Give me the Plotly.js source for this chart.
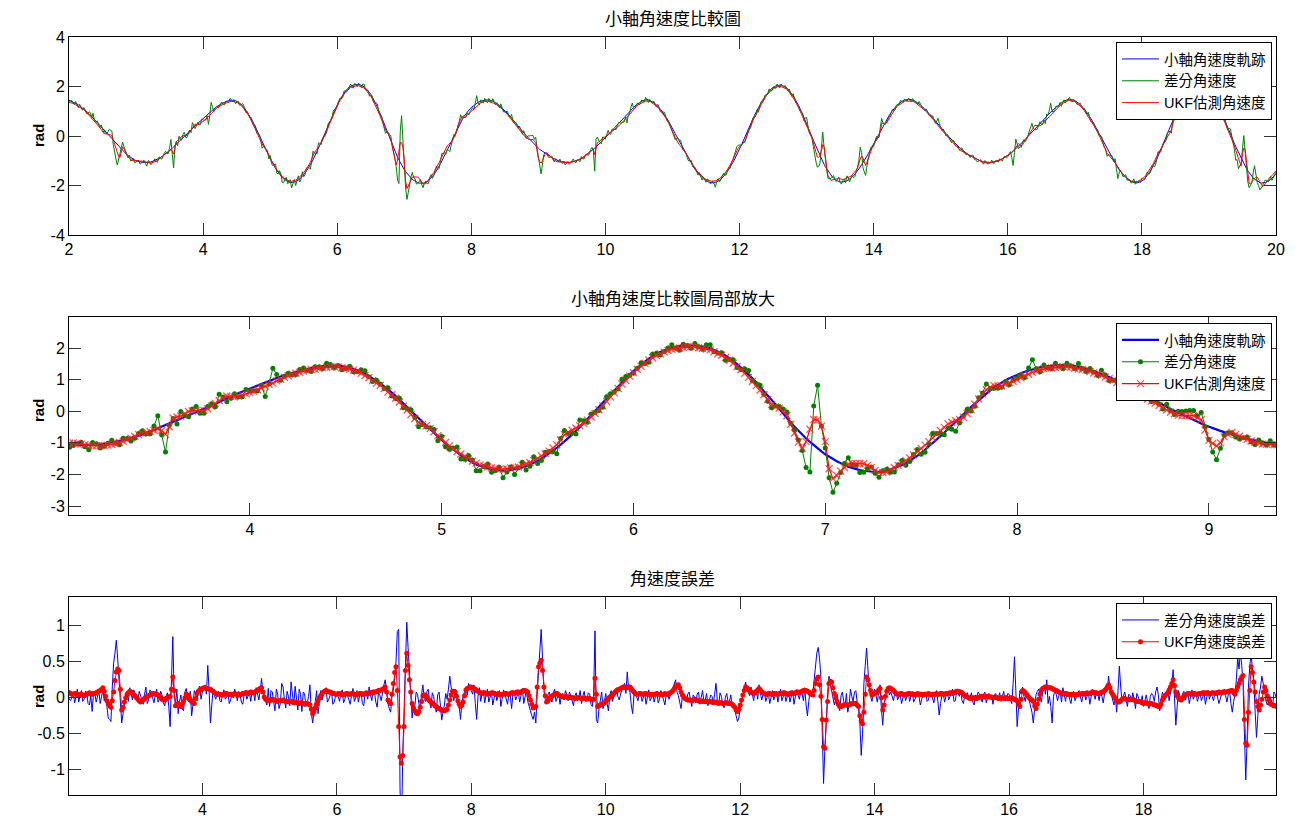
<!DOCTYPE html>
<html>
<head>
<meta charset="utf-8">
<script src="https://cdn.plot.ly/plotly-3.0.1.min.js"></script>
<style>html,body{margin:0;padding:0;background:#fff;}</style>
</head>
<body>
<div id="chart" style="width:1301px;height:820px;"></div>
<script>
// Sampling: frames every dt seconds starting at t0.
// Each record is stored as two interleaved halves: the "frame" arrays hold
// frames 0,2,4,... (t0, t0+2dt, ...) and the "Mid" arrays hold frames 1,3,5,...
const t0 = 2, dt = 0.02;

// Reference (true) minor-axis angular rate, rad — one row per second
const trueRate = [
  1.44,1.40,1.35,1.29,1.22,1.14,1.05,0.95,0.84,0.73,0.61,0.49,0.37,0.24,0.11,-0.01,-0.13,-0.25,-0.37,-0.49,-0.60,-0.70,-0.79,-0.87,-0.94,
  -0.99,-1.03,-1.06,-1.07,-1.07,-1.06,-1.03,-0.99,-0.94,-0.88,-0.81,-0.73,-0.64,-0.54,-0.44,-0.33,-0.23,-0.13,-0.03,0.07,0.18,0.29,0.40,0.51,0.62,
  0.72,0.82,0.92,1.01,1.10,1.18,1.25,1.31,1.37,1.41,1.44,1.45,1.43,1.38,1.30,1.19,1.04,0.88,0.69,0.48,0.25,0.02,-0.22,-0.45,-0.68,
  -0.91,-1.12,-1.31,-1.47,-1.62,-1.73,-1.81,-1.86,-1.88,-1.86,-1.82,-1.74,-1.63,-1.50,-1.34,-1.16,-0.96,-0.74,-0.50,-0.25,0.01,0.27,0.53,0.79,1.04,
  1.27,1.48,1.66,1.81,1.93,2.01,2.06,2.08,2.08,2.05,1.99,1.89,1.76,1.59,1.39,1.16,0.91,0.64,0.36,0.07,-0.22,-0.49,-0.74,-0.97,-1.18,
  -1.36,-1.51,-1.64,-1.75,-1.83,-1.88,-1.91,-1.91,-1.88,-1.80,-1.70,-1.57,-1.41,-1.22,-1.01,-0.79,-0.56,-0.33,-0.10,0.13,0.35,0.56,0.75,0.91,1.04,
  1.15,1.25,1.33,1.39,1.43,1.45,1.46,1.45,1.41,1.35,1.27,1.18,1.08,0.97,0.85,0.72,0.59,0.46,0.33,0.20,0.07,-0.05,-0.17,-0.28,-0.39,
  -0.49,-0.58,-0.66,-0.73,-0.80,-0.87,-0.93,-0.98,-1.02,-1.05,-1.07,-1.07,-1.06,-1.04,-1.01,-0.96,-0.91,-0.84,-0.76,-0.67,-0.58,-0.49,-0.39,-0.29,-0.18,
  -0.07,0.05,0.17,0.29,0.41,0.53,0.65,0.77,0.89,1.00,1.11,1.21,1.30,1.37,1.43,1.47,1.46,1.42,1.35,1.26,1.15,1.01,0.86,0.69,0.51,
  0.31,0.10,-0.10,-0.32,-0.52,-0.73,-0.93,-1.11,-1.28,-1.43,-1.57,-1.68,-1.77,-1.84,-1.88,-1.89,-1.87,-1.83,-1.75,-1.65,-1.51,-1.35,-1.17,-0.97,-0.76,
  -0.53,-0.29,-0.04,0.21,0.46,0.70,0.93,1.14,1.34,1.52,1.68,1.82,1.92,2.00,2.04,2.06,2.04,1.99,1.90,1.77,1.62,1.44,1.23,1.00,0.76,
  0.50,0.23,-0.03,-0.30,-0.56,-0.80,-1.03,-1.24,-1.42,-1.57,-1.70,-1.79,-1.84,-1.86,-1.85,-1.81,-1.74,-1.65,-1.54,-1.41,-1.25,-1.08,-0.90,-0.71,-0.50,
  -0.29,-0.08,0.12,0.33,0.52,0.70,0.87,1.03,1.16,1.27,1.36,1.43,1.47,1.48,1.47,1.43,1.37,1.29,1.20,1.10,0.99,0.87,0.74,0.61,0.48,
  0.35,0.22,0.09,-0.03,-0.15,-0.26,-0.37,-0.47,-0.57,-0.65,-0.73,-0.80,-0.87,-0.93,-0.98,-1.02,-1.05,-1.07,-1.07,-1.06,-1.04,-1.01,-0.97,-0.92,-0.86,
  -0.79,-0.71,-0.62,-0.52,-0.42,-0.31,-0.20,-0.08,0.04,0.16,0.28,0.40,0.52,0.64,0.75,0.86,0.97,1.07,1.17,1.26,1.34,1.41,1.46,1.48,1.47,
  1.43,1.36,1.27,1.16,1.02,0.87,0.70,0.51,0.32,0.11,-0.10,-0.31,-0.52,-0.73,-0.92,-1.11,-1.28,-1.43,-1.57,-1.68,-1.77,-1.84,-1.88,-1.89,-1.87,
  -1.82,-1.73,-1.60,-1.44,-1.26,-1.05,-0.82,-0.57,-0.31,-0.04,0.23,0.50,0.76,1.01,1.24,1.45,1.63,1.79,1.92,2.01,2.06,2.08,2.06,2.01,1.93,
  1.81,1.67,1.50,1.30,1.09,0.85,0.61,0.35,0.09,-0.17,-0.43,-0.67,-0.91,-1.12,-1.32,-1.49,-1.63,-1.75,-1.83,-1.88,-1.90,-1.88,-1.84,-1.76,-1.65,
  -1.52
];
const trueRateMid = [
  1.42,1.38,1.32,1.26,1.18,1.10,1.00,0.90,0.79,0.67,0.55,0.43,0.31,0.18,0.05,-0.07,-0.19,-0.31,-0.43,-0.55,-0.65,-0.75,-0.83,-0.91,-0.97,
  -1.01,-1.05,-1.07,-1.07,-1.07,-1.05,-1.01,-0.97,-0.91,-0.85,-0.77,-0.69,-0.59,-0.49,-0.39,-0.28,-0.18,-0.08,0.02,0.12,0.23,0.35,0.46,0.57,0.67,
  0.77,0.87,0.97,1.06,1.14,1.22,1.28,1.34,1.39,1.43,1.45,1.45,1.41,1.34,1.25,1.12,0.96,0.79,0.59,0.37,0.14,-0.10,-0.34,-0.57,-0.80,
  -1.02,-1.22,-1.39,-1.55,-1.68,-1.77,-1.84,-1.88,-1.88,-1.84,-1.78,-1.69,-1.57,-1.42,-1.25,-1.06,-0.85,-0.62,-0.38,-0.12,0.14,0.40,0.66,0.92,1.16,
  1.38,1.57,1.74,1.87,1.97,2.04,2.07,2.09,2.07,2.02,1.94,1.83,1.68,1.49,1.28,1.04,0.78,0.50,0.22,-0.08,-0.36,-0.62,-0.86,-1.08,-1.27,
  -1.44,-1.58,-1.70,-1.79,-1.86,-1.90,-1.92,-1.90,-1.84,-1.75,-1.64,-1.49,-1.32,-1.12,-0.90,-0.68,-0.45,-0.22,0.02,0.24,0.46,0.66,0.83,0.98,1.10,
  1.20,1.29,1.36,1.41,1.44,1.46,1.46,1.43,1.38,1.31,1.23,1.13,1.03,0.91,0.79,0.66,0.53,0.40,0.27,0.14,0.01,-0.11,-0.23,-0.34,-0.44,
  -0.54,-0.62,-0.70,-0.77,-0.84,-0.90,-0.96,-1.00,-1.04,-1.06,-1.07,-1.07,-1.05,-1.03,-0.99,-0.94,-0.88,-0.80,-0.72,-0.63,-0.54,-0.44,-0.34,-0.24,-0.13,
  -0.01,0.11,0.23,0.35,0.47,0.59,0.71,0.83,0.95,1.06,1.16,1.26,1.34,1.40,1.45,1.47,1.44,1.39,1.31,1.21,1.08,0.94,0.78,0.60,0.41,
  0.21,0.00,-0.21,-0.42,-0.63,-0.83,-1.02,-1.20,-1.36,-1.50,-1.63,-1.73,-1.81,-1.86,-1.89,-1.89,-1.85,-1.79,-1.70,-1.58,-1.43,-1.26,-1.07,-0.87,-0.65,
  -0.41,-0.16,0.09,0.34,0.58,0.82,1.04,1.24,1.43,1.60,1.75,1.87,1.96,2.02,2.05,2.06,2.02,1.95,1.84,1.70,1.53,1.34,1.12,0.88,0.63,
  0.37,0.10,-0.17,-0.43,-0.68,-0.92,-1.14,-1.33,-1.50,-1.64,-1.75,-1.82,-1.86,-1.86,-1.83,-1.78,-1.70,-1.60,-1.48,-1.33,-1.17,-0.99,-0.81,-0.61,-0.40,
  -0.18,0.02,0.22,0.42,0.61,0.78,0.95,1.10,1.22,1.32,1.40,1.45,1.48,1.48,1.45,1.40,1.33,1.25,1.15,1.05,0.93,0.81,0.68,0.55,0.42,
  0.29,0.16,0.03,-0.09,-0.21,-0.32,-0.42,-0.52,-0.61,-0.69,-0.77,-0.84,-0.90,-0.96,-1.00,-1.04,-1.06,-1.07,-1.07,-1.05,-1.03,-0.99,-0.95,-0.89,-0.83,
  -0.75,-0.67,-0.57,-0.47,-0.37,-0.26,-0.14,-0.02,0.10,0.22,0.34,0.46,0.58,0.70,0.81,0.92,1.02,1.12,1.22,1.30,1.38,1.44,1.48,1.48,1.45,
  1.40,1.32,1.22,1.09,0.95,0.79,0.61,0.42,0.22,0.01,-0.21,-0.42,-0.63,-0.83,-1.02,-1.20,-1.36,-1.50,-1.63,-1.73,-1.81,-1.86,-1.89,-1.89,-1.85,
  -1.78,-1.67,-1.52,-1.35,-1.16,-0.94,-0.70,-0.44,-0.18,0.10,0.37,0.63,0.89,1.13,1.35,1.54,1.71,1.86,1.97,2.04,2.08,2.08,2.04,1.97,1.87,
  1.74,1.59,1.40,1.20,0.97,0.73,0.48,0.22,-0.04,-0.30,-0.55,-0.79,-1.02,-1.22,-1.41,-1.56,-1.69,-1.79,-1.86,-1.90,-1.90,-1.86,-1.80,-1.71,-1.59
];

// Error of the finite-difference rate (true - difference), rad
const diffErr = [
  0.05,-0.04,0.08,0.01,-0.06,0.10,-0.02,0.06,-0.10,-0.19,0.07,0.02,-0.08,0.11,0.03,-0.28,-0.33,0.48,0.80,0.22,-0.35,-0.12,0.09,0.14,-0.03,
  0.06,-0.05,0.02,-0.09,0.15,-0.03,0.08,-0.07,0.12,-0.02,0.04,-0.11,0.07,-0.40,0.85,-0.10,-0.22,0.04,-0.18,0.13,-0.06,-0.25,0.10,-0.04,0.16,
  0.08,0.18,0.45,-0.35,0.12,-0.02,0.09,-0.06,0.11,0.01,-0.08,0.07,0.12,-0.04,0.05,-0.09,0.10,0.02,-0.05,0.08,0.14,-0.03,0.27,0.05,-0.10,
  -0.12,0.08,-0.18,0.05,-0.08,0.15,-0.14,0.02,0.22,-0.10,-0.03,0.12,-0.19,0.06,-0.07,0.18,-0.35,-0.05,-0.22,0.10,0.04,0.14,-0.02,0.09,-0.06,
  0.07,-0.05,0.11,-0.02,0.04,-0.09,0.13,0.00,-0.06,0.09,-0.11,0.05,0.15,-0.04,0.08,-0.13,0.03,0.10,0.25,-0.08,-0.20,0.10,0.50,0.95,-2.00,
  -0.20,1.05,0.30,-0.28,-0.12,0.05,-0.15,0.18,-0.05,0.12,-0.14,0.02,-0.20,0.08,-0.31,-0.10,-0.02,0.30,0.05,0.12,-0.08,-0.30,0.02,0.15,0.20,
  0.10,0.18,-0.30,0.14,0.06,-0.07,0.12,0.01,-0.10,0.09,0.03,-0.12,0.11,-0.02,0.07,-0.15,0.08,0.02,-0.06,0.13,0.05,-0.05,-0.18,-0.30,-0.35,
  0.40,0.95,0.10,-0.05,0.08,-0.06,0.12,0.02,-0.09,0.06,0.10,-0.04,0.03,-0.11,0.07,0.01,-0.08,0.09,-0.03,0.05,-0.12,0.93,-0.35,-0.05,-0.15,
  0.06,-0.18,0.10,0.04,0.14,-0.03,0.12,0.20,0.36,0.08,-0.22,0.10,-0.04,0.07,0.02,-0.09,0.11,0.00,-0.06,0.09,-0.02,0.05,-0.10,0.08,0.03,
  0.12,0.25,0.03,-0.15,0.06,-0.05,0.08,-0.12,0.01,0.05,-0.09,0.10,-0.03,-0.11,0.04,-0.07,0.20,-0.10,0.02,-0.14,0.06,-0.05,-0.12,-0.20,-0.33,
  -0.15,0.05,0.22,0.08,0.15,-0.04,0.11,0.18,-0.03,0.09,0.02,-0.08,0.10,0.04,-0.06,0.12,0.01,-0.05,0.08,0.03,-0.09,0.11,-0.02,0.06,0.14,
  -0.25,0.10,0.04,0.50,0.70,0.30,-1.19,-0.20,0.30,0.15,-0.10,0.05,-0.18,0.08,-0.12,-0.20,0.12,-0.05,0.10,-0.15,-0.80,0.20,0.69,0.10,-0.05,
  0.12,-0.06,0.18,-0.38,0.05,0.15,0.08,-0.04,0.10,0.01,-0.08,0.07,0.02,-0.05,0.09,-0.02,0.06,-0.10,0.04,0.08,-0.03,0.05,-0.07,0.10,-0.24,
  0.03,-0.06,0.09,0.01,0.12,-0.04,0.06,0.11,-0.08,0.04,-0.02,0.07,-0.10,0.02,0.05,-0.06,0.08,-0.01,0.04,-0.09,0.06,0.00,-0.05,0.09,-0.03,
  0.05,-0.08,0.57,-0.40,0.10,0.15,-0.05,0.06,-0.12,-0.35,0.04,0.12,-0.06,0.18,0.25,0.02,-0.35,0.10,-0.04,0.08,0.14,-0.05,0.06,-0.08,0.09,
  0.02,0.10,-0.06,0.08,0.03,-0.09,0.12,-0.02,0.05,0.09,-0.07,0.15,0.30,0.04,-0.10,-0.20,0.44,-0.05,0.08,-0.12,0.03,0.07,-0.15,0.02,-0.08,
  -0.12,0.04,-0.15,0.06,-0.05,0.15,-0.18,0.08,-0.02,0.12,0.05,0.39,-0.38,0.10,-0.06,0.09,0.02,-0.08,0.11,0.04,-0.05,0.07,0.01,-0.09,0.10,
  0.06,-0.04,0.10,-0.08,0.05,0.12,-0.06,0.09,-0.20,0.04,0.55,0.65,0.20,-1.14,0.15,0.60,0.25,-0.55,0.05,0.30,0.12,-0.10,0.02,-0.12,0.05,
  -0.08
];
const diffErrMid = [
  -0.02,0.03,-0.07,0.12,0.02,-0.05,0.09,-0.08,0.04,0.05,-0.06,0.10,0.01,-0.04,-0.12,-0.30,0.15,0.62,0.55,-0.10,-0.22,0.03,-0.05,0.06,0.11,
  0.01,0.09,-0.04,0.05,-0.08,0.11,0.00,0.04,-0.06,0.09,-0.07,0.02,-0.12,0.25,0.05,0.12,-0.05,-0.15,0.08,-0.03,0.09,-0.10,0.05,0.12,-0.02,
  0.12,0.05,0.10,-0.10,0.03,0.07,-0.04,0.05,-0.02,0.08,-0.03,0.00,0.06,0.09,-0.06,0.03,-0.02,0.07,0.11,-0.04,0.06,0.10,0.08,-0.05,0.13,
  0.10,-0.06,0.12,-0.15,0.20,-0.02,0.09,-0.11,0.04,0.16,-0.17,0.05,0.08,-0.12,0.02,-0.20,-0.15,0.10,-0.08,-0.03,0.12,-0.06,0.05,-0.09,0.02,
  0.02,0.06,-0.07,0.09,-0.03,0.05,-0.05,0.10,0.03,-0.08,0.06,-0.02,0.04,0.11,-0.06,0.07,-0.04,0.18,0.05,-0.15,0.02,0.29,0.92,-1.25,-0.80,
  0.66,0.70,-0.05,-0.10,0.08,-0.08,0.04,-0.02,0.09,-0.06,0.07,-0.12,0.04,-0.10,-0.20,0.06,0.12,0.15,-0.04,0.08,-0.12,-0.06,0.10,0.04,0.12,
  0.05,-0.08,0.02,-0.05,0.10,0.04,-0.06,0.08,0.03,-0.04,0.10,-0.02,0.05,-0.09,0.03,0.06,-0.03,0.09,0.04,-0.08,0.11,-0.10,-0.25,-0.20,0.05,
  0.75,0.55,-0.02,0.04,0.00,0.07,-0.05,0.06,0.02,-0.03,0.05,0.08,-0.06,0.02,-0.04,0.10,0.03,-0.05,0.07,-0.09,0.05,-0.30,-0.15,0.08,-0.06,
  -0.08,0.03,-0.05,0.09,0.02,0.07,0.15,0.06,0.12,-0.10,0.04,0.01,0.08,-0.05,0.06,0.03,-0.04,0.07,0.02,-0.07,0.10,-0.03,0.04,-0.02,0.09,
  0.18,0.08,-0.06,0.02,-0.03,0.05,-0.02,0.04,-0.07,0.08,0.01,-0.05,0.06,-0.04,0.02,0.05,-0.03,0.07,-0.08,0.01,-0.06,0.04,-0.10,-0.25,-0.28,
  -0.05,0.10,0.12,0.03,0.06,0.08,-0.02,0.07,0.04,-0.05,0.06,0.02,-0.03,0.09,0.05,-0.04,0.07,0.02,-0.06,0.10,0.01,0.04,0.08,-0.04,-0.10,
  -0.05,0.07,0.25,0.62,0.55,-0.40,-0.70,0.05,0.20,0.02,-0.04,-0.06,0.03,-0.05,0.06,-0.10,0.02,0.08,-0.06,-0.35,-0.50,0.45,0.40,0.02,0.06,
  0.03,0.08,-0.15,-0.10,0.12,0.04,0.01,0.07,-0.03,0.05,0.02,-0.04,0.08,0.03,-0.06,0.04,0.01,-0.02,0.06,-0.05,0.07,0.00,0.03,-0.05,-0.08,
  0.07,0.02,-0.03,0.06,-0.05,0.08,0.02,-0.04,0.03,0.07,0.01,-0.06,0.04,0.08,-0.02,0.05,-0.07,0.06,0.02,0.04,-0.03,0.07,0.02,-0.04,0.06,
  -0.03,0.20,0.10,-0.15,0.05,0.02,0.08,-0.04,-0.20,-0.10,0.09,0.03,0.10,0.05,-0.08,-0.12,0.02,0.05,0.03,-0.06,0.04,0.09,-0.02,0.05,-0.04,
  0.06,0.03,0.04,-0.03,0.07,0.02,0.05,0.08,-0.04,0.02,0.06,0.10,0.12,-0.06,0.03,0.10,0.15,0.02,-0.03,0.05,-0.04,-0.02,0.06,-0.05,0.03,
  -0.04,-0.06,0.02,0.03,0.08,0.04,-0.05,0.03,0.07,-0.04,0.18,0.05,-0.12,0.03,0.06,-0.03,0.07,0.02,-0.02,0.08,0.01,-0.04,0.06,0.03,-0.02,
  0.02,0.05,0.01,-0.02,0.07,0.03,0.04,-0.08,-0.05,0.25,0.40,0.45,-0.50,-0.60,0.45,0.40,-0.20,-0.25,0.15,0.20,-0.04,-0.06,-0.03,0.08,-0.02
];

// Error of the UKF estimate (true - estimate), rad
const ukfErr = [
  0.08,0.06,0.05,0.06,0.04,0.05,0.03,0.05,0.07,0.05,0.06,0.08,0.10,0.14,0.02,-0.08,-0.13,0.08,0.36,0.38,-0.17,-0.06,0.05,0.09,0.06,
  0.03,-0.02,-0.06,-0.03,0.01,0.03,0.05,0.06,0.05,0.02,-0.02,-0.03,0.00,0.02,0.29,-0.11,-0.08,-0.12,-0.05,0.05,0.02,-0.05,-0.08,0.06,0.11,
  0.13,0.14,0.13,0.12,0.09,0.06,0.05,0.04,0.05,0.06,0.05,0.04,0.06,0.05,0.04,0.06,0.07,0.06,0.08,0.07,0.09,0.12,0.14,0.01,-0.03,
  -0.04,-0.02,-0.03,-0.05,-0.04,-0.03,-0.05,-0.06,-0.05,-0.07,-0.06,-0.08,-0.07,-0.09,-0.08,-0.10,-0.22,-0.14,-0.04,0.03,0.08,0.10,0.08,0.07,0.06,
  0.05,0.06,0.04,0.05,0.06,0.05,0.06,0.04,0.05,0.06,0.05,0.07,0.06,0.07,0.08,0.09,0.10,0.12,0.15,-0.03,-0.08,0.20,0.43,-0.40,-0.91,
  -0.40,0.62,0.25,-0.08,-0.18,-0.22,-0.13,0.03,0.04,-0.02,-0.06,-0.09,-0.12,-0.15,-0.17,-0.18,-0.16,-0.03,0.09,0.08,-0.04,-0.12,-0.06,0.11,0.14,
  0.15,0.13,0.10,0.08,0.06,0.07,0.05,0.06,0.07,0.05,0.06,0.04,0.05,0.06,0.05,0.07,0.06,0.08,0.07,0.09,0.10,0.08,-0.03,-0.14,-0.12,
  0.43,0.52,0.15,-0.06,-0.01,0.02,0.05,0.06,0.03,0.01,0.02,0.00,0.01,0.00,-0.01,0.00,-0.01,0.00,-0.02,-0.01,-0.03,0.27,-0.12,-0.10,-0.08,
  -0.05,-0.01,0.02,0.06,0.10,0.12,0.14,0.15,0.14,0.15,0.10,0.06,0.05,0.06,0.05,0.06,0.05,0.04,0.05,0.06,0.05,0.04,0.06,0.05,0.07,
  0.10,0.16,0.18,0.08,0.01,-0.02,-0.03,-0.04,-0.02,-0.03,-0.05,-0.04,-0.05,-0.06,-0.05,-0.07,-0.06,-0.08,-0.07,-0.08,-0.07,-0.08,-0.09,-0.13,-0.19,
  -0.10,0.04,0.15,0.12,0.08,0.06,0.09,0.13,0.08,0.06,0.05,0.06,0.05,0.06,0.05,0.06,0.07,0.06,0.05,0.07,0.06,0.08,0.07,0.09,0.10,
  0.09,0.06,0.04,0.20,0.29,0.02,-0.68,-0.31,0.20,0.22,0.06,-0.05,-0.12,-0.11,-0.10,-0.10,-0.09,-0.08,-0.08,-0.12,-0.32,-0.20,0.29,0.18,0.04,
  0.06,0.08,0.13,-0.17,0.02,0.13,0.13,0.10,0.06,0.05,0.06,0.04,0.05,0.06,0.05,0.04,0.06,0.05,0.04,0.05,0.06,0.04,0.05,0.06,0.05,
  0.06,0.05,0.06,0.07,0.06,0.08,0.09,0.08,0.05,0.02,0.00,-0.01,0.00,-0.01,0.01,0.02,0.01,0.02,0.01,0.00,0.01,-0.01,0.00,-0.01,0.00,
  -0.01,0.00,-0.02,-0.04,-0.12,0.10,0.07,0.02,-0.02,-0.05,-0.15,-0.02,0.11,0.14,0.15,0.14,0.13,0.11,0.09,0.07,0.05,0.06,0.05,0.04,0.05,
  0.04,0.05,0.06,0.05,0.07,0.06,0.08,0.07,0.06,0.07,0.08,0.12,0.18,0.08,0.02,-0.04,-0.06,-0.02,-0.01,-0.02,-0.03,-0.02,-0.04,-0.05,-0.06,
  -0.08,-0.07,-0.09,-0.08,-0.10,-0.11,-0.12,-0.03,0.03,0.07,0.15,0.25,0.08,0.00,-0.03,0.02,0.05,0.06,0.05,0.06,0.05,0.06,0.07,0.06,0.07,
  0.06,0.07,0.06,0.08,0.07,0.08,0.08,0.09,0.10,0.05,0.15,0.25,0.31,-0.63,-0.20,0.43,0.22,-0.05,-0.17,-0.02,0.15,0.03,-0.08,-0.10,-0.11,
  -0.12
];
const ukfErrMid = [
  0.07,0.05,0.06,0.05,0.05,0.04,0.04,0.06,0.06,0.06,0.07,0.09,0.12,0.09,-0.04,-0.11,-0.04,0.24,0.40,0.12,-0.13,0.00,0.07,0.08,0.04,
  0.00,-0.04,-0.05,-0.01,0.02,0.04,0.06,0.05,0.04,0.00,-0.03,-0.01,0.01,0.12,0.10,-0.10,-0.10,-0.09,0.00,0.04,-0.02,-0.07,-0.01,0.09,0.12,
  0.14,0.13,0.12,0.10,0.07,0.05,0.05,0.04,0.06,0.05,0.05,0.05,0.05,0.04,0.05,0.06,0.07,0.07,0.07,0.08,0.10,0.13,0.08,-0.02,-0.03,
  -0.03,-0.03,-0.04,-0.04,-0.04,-0.04,-0.05,-0.05,-0.06,-0.06,-0.07,-0.07,-0.08,-0.08,-0.09,-0.16,-0.19,-0.09,0.00,0.06,0.09,0.09,0.08,0.06,0.05,
  0.06,0.05,0.05,0.06,0.05,0.06,0.05,0.05,0.06,0.05,0.06,0.06,0.07,0.08,0.08,0.10,0.11,0.13,0.08,-0.06,0.05,0.35,0.10,-0.82,-0.80,
  0.38,0.45,0.08,-0.14,-0.21,-0.19,-0.05,0.04,0.01,-0.04,-0.08,-0.11,-0.14,-0.16,-0.18,-0.17,-0.10,0.04,0.09,0.02,-0.09,-0.10,0.03,0.13,0.15,
  0.14,0.12,0.09,0.07,0.07,0.06,0.06,0.07,0.06,0.05,0.05,0.05,0.06,0.05,0.06,0.07,0.07,0.08,0.08,0.10,0.09,0.03,-0.09,-0.13,0.15,
  0.48,0.38,0.03,-0.04,0.01,0.04,0.06,0.04,0.02,0.01,0.01,0.01,0.00,-0.01,0.00,0.00,-0.01,-0.01,-0.01,-0.02,-0.02,0.05,-0.11,-0.09,-0.07,
  -0.03,0.01,0.04,0.08,0.11,0.13,0.15,0.14,0.15,0.13,0.08,0.05,0.06,0.05,0.06,0.05,0.05,0.05,0.05,0.05,0.05,0.05,0.05,0.06,0.08,
  0.13,0.17,0.14,0.04,-0.01,-0.03,-0.03,-0.03,-0.03,-0.04,-0.05,-0.05,-0.05,-0.06,-0.06,-0.06,-0.07,-0.07,-0.08,-0.07,-0.08,-0.08,-0.11,-0.17,-0.16,
  -0.03,0.10,0.14,0.10,0.07,0.07,0.11,0.11,0.07,0.05,0.06,0.05,0.06,0.05,0.06,0.06,0.07,0.05,0.06,0.06,0.07,0.08,0.08,0.10,0.10,
  0.08,0.05,0.10,0.26,0.18,-0.30,-0.70,-0.05,0.23,0.14,0.00,-0.09,-0.12,-0.10,-0.10,-0.10,-0.08,-0.08,-0.10,-0.25,-0.36,0.05,0.25,0.10,0.05,
  0.07,0.11,0.00,-0.10,0.09,0.14,0.12,0.08,0.05,0.06,0.05,0.05,0.06,0.05,0.05,0.05,0.05,0.05,0.05,0.05,0.05,0.05,0.05,0.05,0.06,
  0.05,0.06,0.06,0.07,0.07,0.09,0.08,0.07,0.03,0.01,-0.01,0.00,-0.01,0.00,0.02,0.01,0.02,0.01,0.01,0.00,0.00,-0.01,0.00,0.00,-0.01,
  0.00,-0.01,-0.03,-0.09,-0.02,0.09,0.05,0.00,-0.03,-0.11,-0.09,0.05,0.13,0.15,0.14,0.14,0.12,0.10,0.08,0.06,0.06,0.05,0.05,0.05,0.04,
  0.05,0.05,0.06,0.06,0.06,0.07,0.07,0.07,0.06,0.08,0.10,0.15,0.14,0.05,-0.01,-0.06,-0.04,-0.01,-0.02,-0.02,-0.02,-0.03,-0.05,-0.05,-0.07,
  -0.07,-0.08,-0.08,-0.09,-0.10,-0.12,-0.09,0.00,0.05,0.11,0.20,0.17,0.03,-0.02,-0.01,0.04,0.06,0.05,0.06,0.05,0.06,0.06,0.07,0.07,0.06,
  0.07,0.06,0.07,0.07,0.08,0.08,0.09,0.10,0.07,0.10,0.20,0.29,-0.30,-0.66,0.10,0.35,0.08,-0.12,-0.10,0.08,0.10,-0.03,-0.09,-0.11,-0.12
];

// Labels
const panelTitles = ['小軸角速度比較圖', '小軸角速度比較圖局部放大', '角速度誤差'];
const rateNames = ['小軸角速度軌跡', '差分角速度', 'UKF估測角速度'];
const errNames = ['差分角速度誤差', 'UKF角速度誤差'];
const yLabel = 'rad';

// Tick values / labels (hyphen minus as on the original axes)
const x1Ticks = [2, 4, 6, 8, 10, 12, 14, 16, 18, 20];
const y1Ticks = [-4, -2, 0, 2, 4];
const x2Ticks = [4, 5, 6, 7, 8, 9];
const y2Ticks = [-3, -2, -1, 0, 1, 2];
const x3Ticks = [4, 6, 8, 10, 12, 14, 16, 18];
const y3Ticks = [-1, -0.5, 0, 0.5, 1];
const lbl = a => a.map(v => String(v));

// Merge the two halves of each record back into frame order
function interleave(a, b) {
  const out = [];
  for (let i = 0; i < a.length; i++) {
    out.push(a[i]);
    if (i < b.length) out.push(b[i]);
  }
  return out;
}
const trueAll = interleave(trueRate, trueRateMid);
const diffErrAll = interleave(diffErr, diffErrMid);
const ukfErrAll = interleave(ukfErr, ukfErrMid);
const n = Math.min(trueAll.length, diffErrAll.length, ukfErrAll.length);

const time = trueAll.slice(0, n).map((_, i) => +(t0 + i * dt).toFixed(2));
const truePlot = trueAll.slice(0, n);
const diffErrPlot = diffErrAll.slice(0, n);
const ukfErrPlot = ukfErrAll.slice(0, n);
// Measured rates = true rate minus their errors
const diffRate = truePlot.map((v, i) => +(v - diffErrPlot[i]).toFixed(3));
const ukfRate = truePlot.map((v, i) => +(v - ukfErrPlot[i]).toFixed(3));

const BLUE = '#0000ff', GREEN = '#008000', RED = '#ff0000';
const W = 1301, H = 820;
const band = (top, bottom) => [1 - bottom / H, 1 - top / H];

const traces = [
  // Panel 1: full record
  {x: time, y: truePlot, xaxis: 'x', yaxis: 'y', mode: 'lines', name: rateNames[0],
   line: {color: BLUE, width: 1}, legend: 'legend'},
  {x: time, y: diffRate, xaxis: 'x', yaxis: 'y', mode: 'lines', name: rateNames[1],
   line: {color: GREEN, width: 1}, legend: 'legend'},
  {x: time, y: ukfRate, xaxis: 'x', yaxis: 'y', mode: 'lines', name: rateNames[2],
   line: {color: RED, width: 1}, legend: 'legend'},
  // Panel 2: zoomed section
  {x: time, y: truePlot, xaxis: 'x2', yaxis: 'y2', mode: 'lines', name: rateNames[0],
   line: {color: BLUE, width: 2.2}, legend: 'legend2'},
  {x: time, y: diffRate, xaxis: 'x2', yaxis: 'y2', mode: 'lines+markers', name: rateNames[1],
   line: {color: GREEN, width: 1}, marker: {symbol: 'circle', size: 5, color: GREEN}, legend: 'legend2'},
  {x: time, y: ukfRate, xaxis: 'x2', yaxis: 'y2', mode: 'lines+markers', name: rateNames[2],
   line: {color: RED, width: 1.2},
   marker: {symbol: 'x-thin-open', size: 7, color: 'rgba(255,30,30,0.75)', line: {color: 'rgba(255,30,30,0.75)', width: 1.3}},
   legend: 'legend2'},
  // Panel 3: errors
  {x: time, y: diffErrPlot, xaxis: 'x3', yaxis: 'y3', mode: 'lines', name: errNames[0],
   line: {color: BLUE, width: 1}, legend: 'legend3'},
  {x: time, y: ukfErrPlot, xaxis: 'x3', yaxis: 'y3', mode: 'lines+markers', name: errNames[1],
   line: {color: RED, width: 1}, marker: {symbol: 'circle', size: 5, color: RED}, legend: 'legend3'}
];

const tickFont = {family: 'Liberation Sans, Arial, sans-serif', size: 16, color: '#000'};
function axis(extra) {
  return Object.assign({
    showline: true, mirror: 'ticks', linecolor: '#000', linewidth: 1,
    ticks: 'inside', ticklen: 12, tickwidth: 1, tickcolor: '#333',
    showgrid: false, zeroline: false, fixedrange: true, tickfont: tickFont
  }, extra);
}
function legendBox(topPx) {
  return {
    x: (1272 - 69) / (W - 69 - 25), xanchor: 'right', xref: 'paper',
    y: 1 - topPx / H, yanchor: 'top', yref: 'paper',
    bgcolor: '#fff', bordercolor: '#000', borderwidth: 1,
    font: {family: 'Liberation Sans, Noto Sans CJK TC, sans-serif', size: 14.5, color: '#000'},
    itemwidth: 37, tracegroupgap: 0
  };
}

const titleFont = {family: 'Noto Sans CJK TC, sans-serif', size: 17, color: '#000'};
const radFont = {family: 'Liberation Sans, Arial, sans-serif', size: 15, color: '#000'};
const annotations = [
  {text: panelTitles[0], x: 0.5, y: 1 - 17 / H},
  {text: panelTitles[1], x: 0.5, y: 1 - 297 / H},
  {text: panelTitles[2], x: 0.5, y: 1 - 577 / H}
].map(a => Object.assign(a, {xref: 'paper', yref: 'paper', xanchor: 'center', yanchor: 'middle',
  showarrow: false, font: titleFont}));
[136, 411, 697].forEach(cy => annotations.push({
  text: '<b>' + yLabel + '</b>', x: (38 - 69) / (W - 69 - 25), y: 1 - cy / H,
  xref: 'paper', yref: 'paper', xanchor: 'center', yanchor: 'middle',
  textangle: -90, showarrow: false, font: radFont
}));

const layout = {
  width: W, height: H,
  margin: {l: 69, r: 25, t: 0, b: 0},
  paper_bgcolor: '#fff', plot_bgcolor: '#fff',
  showlegend: true,
  xaxis: axis({domain: [0, 1], anchor: 'y', range: [2, 20], tickvals: x1Ticks, ticktext: lbl(x1Ticks)}),
  yaxis: axis({domain: band(37, 235), anchor: 'x', range: [-4, 4], tickvals: y1Ticks, ticktext: lbl(y1Ticks)}),
  xaxis2: axis({domain: [0, 1], anchor: 'y2', range: [3.057, 9.35], tickvals: x2Ticks, ticktext: lbl(x2Ticks)}),
  yaxis2: axis({domain: band(317, 515), anchor: 'x2', range: [-3.28, 2.98], tickvals: y2Ticks, ticktext: lbl(y2Ticks)}),
  xaxis3: axis({domain: [0, 1], anchor: 'y3', range: [2.016, 19.97], tickvals: x3Ticks, ticktext: lbl(x3Ticks)}),
  yaxis3: axis({domain: band(597, 795), anchor: 'x3', range: [-1.35, 1.40], tickvals: y3Ticks, ticktext: lbl(y3Ticks)}),
  legend: legendBox(42),
  legend2: legendBox(323),
  legend3: legendBox(603),
  annotations: annotations
};

Plotly.newPlot('chart', traces, layout, {displayModeBar: false, staticPlot: true});
</script>
</body>
</html>
